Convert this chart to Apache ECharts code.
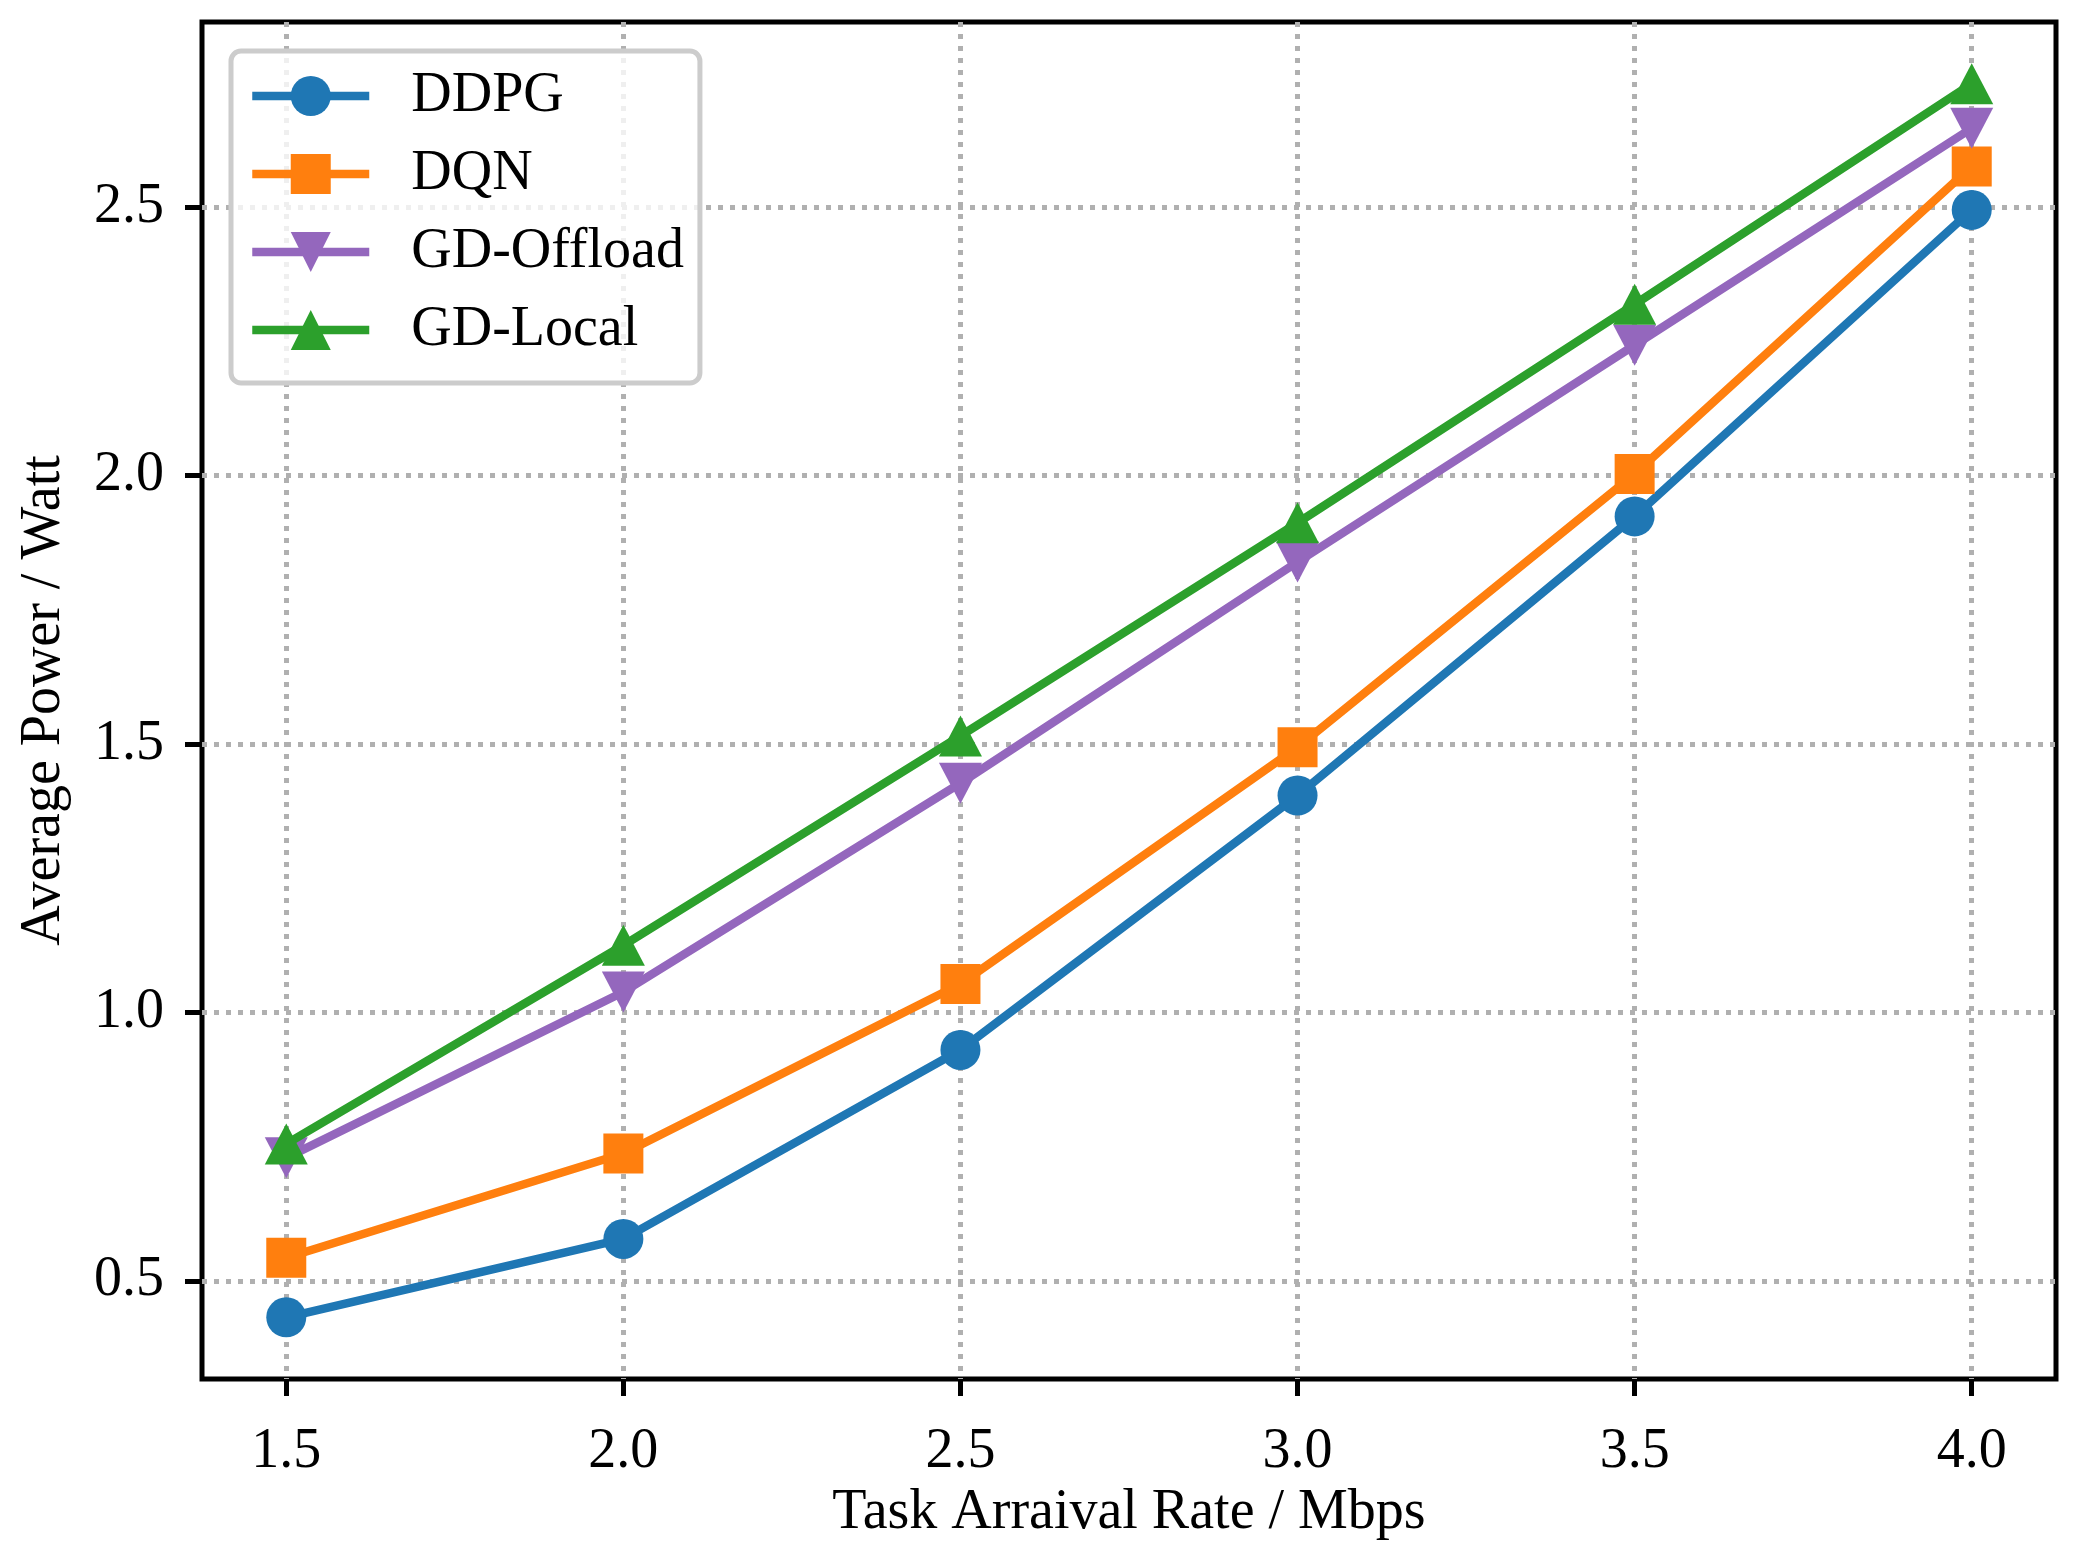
<!DOCTYPE html>
<html>
<head>
<meta charset="utf-8">
<script src="https://cdn.jsdelivr.net/npm/echarts@6/dist/echarts.min.js"></script>
<style>
html,body{margin:0;padding:0;background:#fff;}
#chart{width:2079px;height:1554px;}
</style>
</head>
<body>
<div id="chart"></div>
<script>
const xValues = [1.5, 2.0, 2.5, 3.0, 3.5, 4.0];
const xTicks = [1.5, 2.0, 2.5, 3.0, 3.5, 4.0];
const yTicks = [0.5, 1.0, 1.5, 2.0, 2.5];
const ddpg = [0.432, 0.578, 0.930, 1.404, 1.924, 2.495];
const dqn = [0.543, 0.737, 1.053, 1.494, 2.003, 2.576];
const gdOffload = [0.729, 1.038, 1.427, 1.839, 2.243, 2.647];
const gdLocal = [0.755, 1.125, 1.515, 1.912, 2.319, 2.730];
const seriesNames = ['DDPG', 'DQN', 'GD-Offload', 'GD-Local'];

const FONT = '"Liberation Serif", "Times New Roman", serif';
const FS = 56;
const colors = ['#1f77b4', '#ff7f0e', '#9467bd', '#2ca02c'];
const symbols = ['circle', 'rect', 'path://M0,0 L2,0 L1,2 Z', 'triangle'];
const sizes = [40, 40, [43, 41], [43, 41]];
const allData = [ddpg, dqn, gdOffload, gdLocal];

const chart = echarts.init(document.getElementById('chart'));
const option = {
  backgroundColor: '#ffffff',
  animation: false,
  grid: {
    left: 202, right: 23, top: 22, bottom: 175,
    show: true, borderColor: '#000', borderWidth: 5, backgroundColor: 'transparent'
  },
  legend: {
    orient: 'vertical',
    left: 231, top: 51,
    itemWidth: 117, itemHeight: 50, itemGap: 22,
    padding: [17, 16, 25, 17],
    backgroundColor: 'rgba(255,255,255,0.8)',
    borderColor: '#cccccc', borderWidth: 5, borderRadius: 10,
    lineStyle: { width: 8.5 },
    textStyle: { fontFamily: FONT, fontSize: FS, color: '#000', padding: [0, 0, 0, 37] },
    data: seriesNames
  },
  xAxis: {
    type: 'value', min: 1.375, max: 4.125,
    name: 'Task Arraival Rate / Mbps', nameLocation: 'middle', nameGap: 104,
    nameTextStyle: { fontFamily: FONT, fontSize: FS, color: '#000' },
    axisLine: { show: false },
    axisTick: { show: true, inside: false, length: 17, customValues: xTicks, lineStyle: { color: '#000', width: 5 } },
    axisLabel: { customValues: xTicks, margin: 45, fontFamily: FONT, fontSize: FS, color: '#000',
      formatter: v => v.toFixed(1) },
    splitLine: { show: true, lineStyle: { color: '#b0b0b0', width: 5, type: [5, 7] } }
  },
  yAxis: {
    type: 'value', min: 0.317, max: 2.845,
    name: 'Average Power / Watt', nameLocation: 'middle', nameGap: 130, nameRotate: 90,
    nameTextStyle: { fontFamily: FONT, fontSize: FS, color: '#000' },
    axisLine: { show: false },
    axisTick: { show: true, inside: false, length: 17, customValues: yTicks, lineStyle: { color: '#000', width: 5 } },
    axisLabel: { customValues: yTicks, margin: 38, fontFamily: FONT, fontSize: FS, color: '#000',
      formatter: v => v.toFixed(1) },
    splitLine: { show: true, lineStyle: { color: '#b0b0b0', width: 5, type: [5, 7] } }
  },
  series: seriesNames.map((name, i) => ({
    name: name,
    type: 'line',
    data: xValues.map((x, j) => [x, allData[i][j]]),
    symbol: symbols[i],
    symbolSize: sizes[i],
    showSymbol: true,
    lineStyle: { color: colors[i], width: 8.5 },
    itemStyle: { color: colors[i], borderWidth: 0 },
    emphasis: { disabled: true },
    z: 3 + i
  }))
};
chart.setOption(option);
</script>
</body>
</html>
